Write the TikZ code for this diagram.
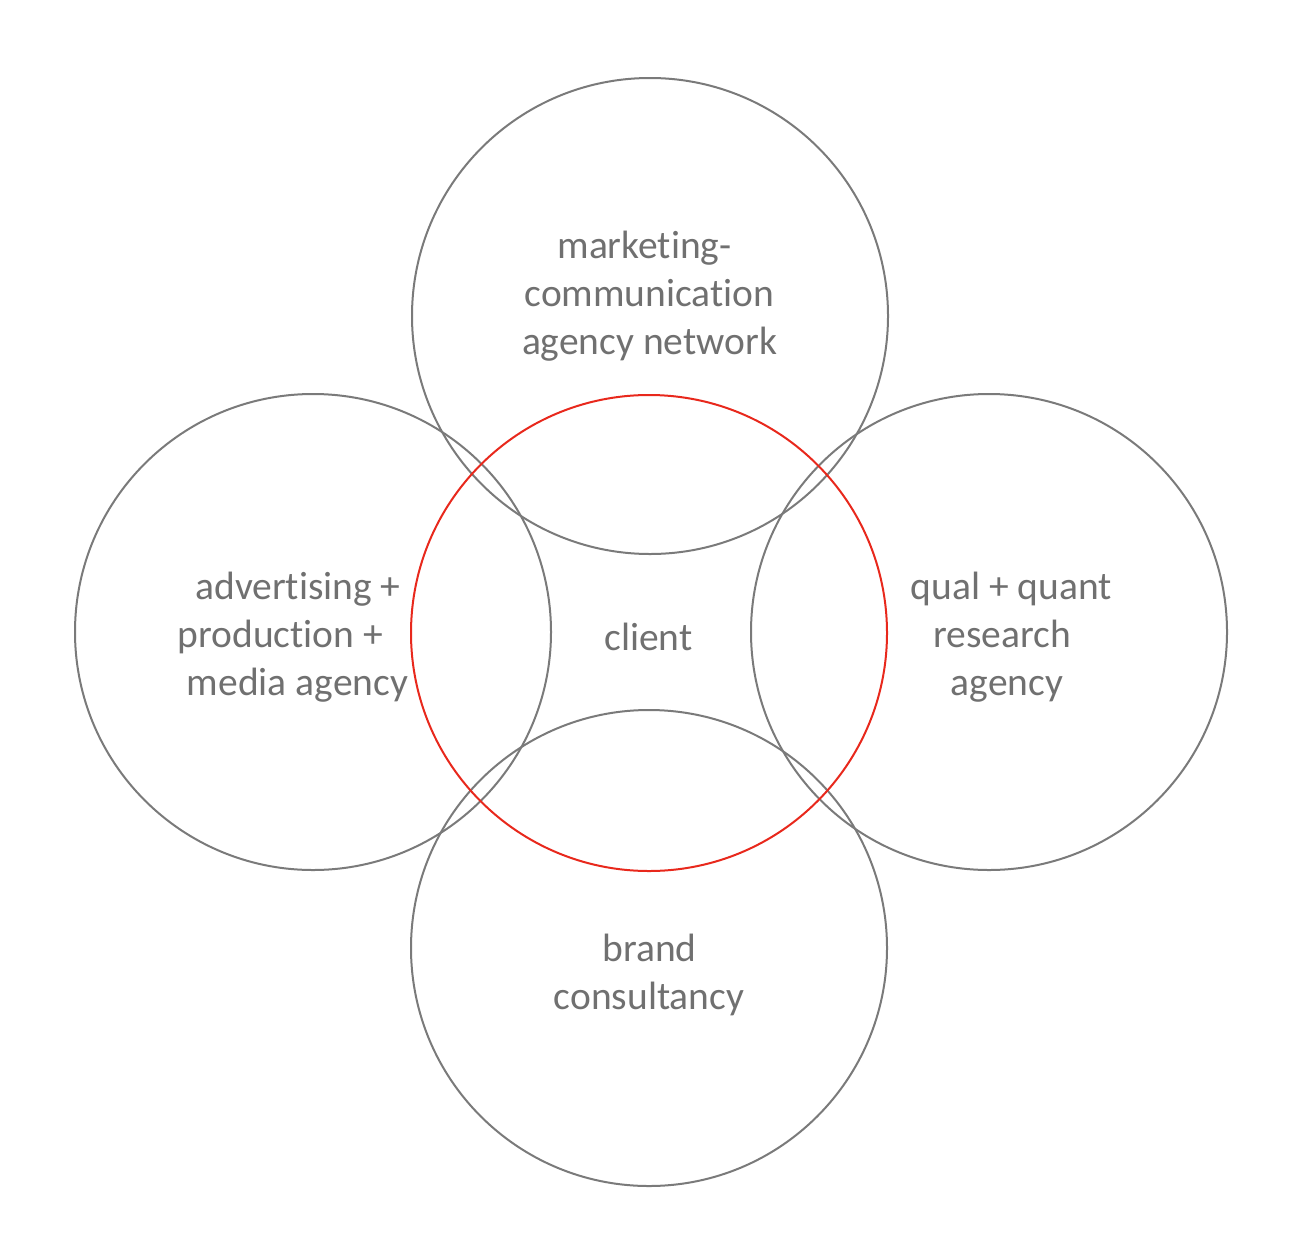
\documentclass[tikz,border=0pt]{standalone}
\usepackage{fontspec}
\setmainfont{Carlito}[Ligatures=NoCommon]
\definecolor{ringgray}{RGB}{122,122,122}
\definecolor{txtgray}{RGB}{112,112,112}
\definecolor{ringred}{RGB}{232,40,28}
\begin{document}
\begin{tikzpicture}[x=1pt,y=-1pt,
  ring/.style={draw=ringgray,line width=2pt},
  redring/.style={draw=ringred,line width=2pt},
  lbl/.style={anchor=base,inner sep=0pt,text=txtgray,font=\fontsize{39.5}{48}\selectfont}]
\useasboundingbox (0,0) rectangle (1311,1250);
\draw[ring] (650,316) circle[radius=238];
\draw[ring] (313,632) circle[radius=238];
\draw[ring] (989,632) circle[radius=238];
\draw[ring] (649,948) circle[radius=238];
\draw[redring] (649,633) circle[radius=238];
% top
\node[lbl] (t1) at (644.5,258) {marketing-};
\node[lbl] (t2) at (649.5,306) {communication};
\node[lbl] (t3) at (649.5,354) {agency network};
% left
\node[lbl] (l1) at (298,599) {advertising +};
\node[lbl] (l2) at (280.5,647) {production +};
\node[lbl] (l3) at (297.5,695) {media agency};
% center
\node[lbl] (c) at (648.5,650) {client};
% right
\node[lbl] (r1) at (1011.5,599) {qual + quant};
\node[lbl] (r2) at (1002,647) {research};
\node[lbl] (r3) at (1007,695) {agency};
% bottom
\node[lbl] (b1) at (649.5,961) {brand};
\node[lbl] (b2) at (649,1009) {consultancy};
\end{tikzpicture}
\end{document}
